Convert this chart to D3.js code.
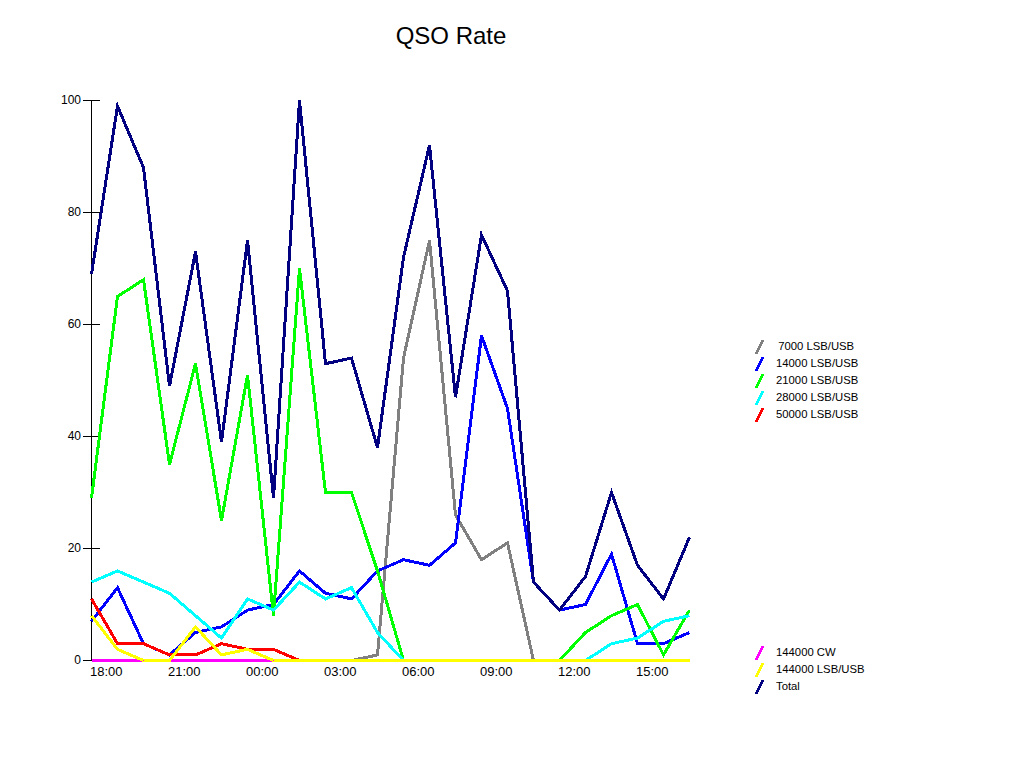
<!DOCTYPE html>
<html><head><meta charset="utf-8">
<script src="https://cdn.jsdelivr.net/npm/d3@7"></script>
<style>body{margin:0;background:#fff}svg{display:block}text{font-family:"Liberation Sans",Arial,sans-serif;fill:#000}</style>
</head><body>
<script>
const hours = ["18","19","20","21","22","23","00","01","02","03","04","05","06","07","08","09","10","11","12","13","14","15","16","17"];
const xTickLabels = ["18:00","21:00","00:00","03:00","06:00","09:00","12:00","15:00"];
const yTicks = [0,20,40,60,80,100];
const s7000   = [0,0,0,0,0,0,0,0,0,0,0,1,54,75,26,18,21,0,0,0,0,0,0,0];
const s14000  = [7,13,3,1,5,6,9,10,16,12,11,16,18,17,21,58,45,14,9,10,19,3,3,5];
const s21000  = [29,65,68,35,53,25,51,8,70,30,30,16,0,0,0,0,0,0,0,5,8,10,1,9];
const s28000  = [14,16,14,12,8,4,11,9,14,11,13,5,0,0,0,0,0,0,0,0,3,4,7,8];
const s50000  = [11,3,3,1,1,3,2,2,0,0,0,0,0,0,0,0,0,0,0,0,0,0,0,0];
const s144cw  = [0,0,0,0,0,0,0,0,0,0,0,0,0,0,0,0,0,0,0,0,0,0,0,0];
const s144ssb = [8,2,0,0,6,1,2,0,0,0,0,0,0,0,0,0,0,0,0,0,0,0,0,0];
const sTotal  = [69,99,88,49,73,39,75,29,100,53,54,38,72,92,47,76,66,14,9,15,30,17,11,22];
const seriesNames = [" 7000 LSB/USB","14000 LSB/USB","21000 LSB/USB","28000 LSB/USB","50000 LSB/USB","144000 CW","144000 LSB/USB","Total"];
const seriesColors = ["#808080","#0000ff","#00ff00","#00ffff","#ff0000","#ff00ff","#ffff00","#000080"];
const seriesData = [s7000,s14000,s21000,s28000,s50000,s144cw,s144ssb,sTotal];

const W=1024,H=768;
const svg=d3.select("body").append("svg").attr("width",W).attr("height",H);
const x=d3.scaleLinear().domain([0,hours.length-1]).range([91,689]);
const y=d3.scaleLinear().domain([0,100]).range([660,100]);

svg.append("text").attr("x",451).attr("y",44).attr("text-anchor","middle").style("font-size","24px").text("QSO Rate");

// y axis
svg.append("line").attr("x1",x(0)+0.5).attr("x2",x(0)+0.5).attr("y1",y(100)).attr("y2",y(0)).attr("stroke","#000").attr("shape-rendering","crispEdges");
yTicks.forEach(v=>{
  svg.append("line").attr("x1",83).attr("x2",100).attr("y1",Math.round(y(v))+0.5).attr("y2",Math.round(y(v))+0.5).attr("stroke","#000").attr("shape-rendering","crispEdges");
  svg.append("text").attr("x",81).attr("y",y(v)+4).attr("text-anchor","end").style("font-size","12px").text(v);
});
// x labels
xTickLabels.forEach((t,i)=>{
  svg.append("text").attr("x",x(i*3)-1).attr("y",676).style("font-size","13px").text(t);
});

const line=d3.line().x((d,i)=>x(i)+0.5).y(d=>y(d)+0.5);
seriesData.forEach((arr,k)=>{
  svg.append("path").datum(arr).attr("d",line).attr("fill","none")
    .attr("stroke",seriesColors[k]).attr("stroke-width",3).attr("stroke-linejoin","miter")
    .attr("shape-rendering","crispEdges");
});

// legend
const legendY=[346,363,380,397,414,652,669,686];
seriesNames.forEach((n,k)=>{
  const cy=legendY[k];
  svg.append("line").attr("x1",756).attr("y1",cy+8).attr("x2",763).attr("y2",cy-6)
    .attr("stroke",seriesColors[k]).attr("stroke-width",3).attr("shape-rendering","crispEdges");
  svg.append("text").attr("x",k===0?775:776).attr("y",cy+4).attr("xml:space","preserve").style("white-space","pre").style("font-size","11.3px").text(n);
});
</script>
</body></html>
